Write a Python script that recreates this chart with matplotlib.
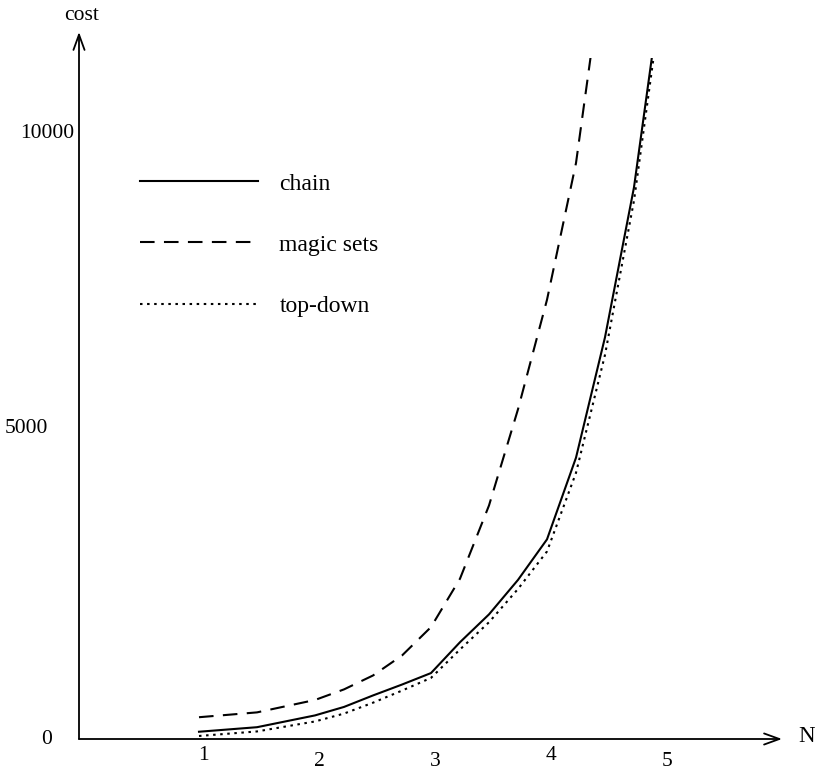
import matplotlib
matplotlib.use("Agg")
import matplotlib.pyplot as plt
from matplotlib.patches import Rectangle

plt.rcParams['font.family'] = ['Liberation Serif', 'DejaVu Serif']

# values (cost vs N)
N = [1, 1.5, 2, 2.25, 2.5, 2.75, 3, 3.25, 3.5, 3.75, 4, 4.25, 4.5, 4.75, 5]
chain = [120, 195, 390, 530, 720, 900, 1090, 1600, 2060, 2630, 3300, 4650, 6640, 9120, 12600]
magic_sets = [360, 440, 645, 820, 1050, 1380, 1850, 2650, 3860, 5450, 7260, 9520, 13000, 17000, 22000]
top_down = [50, 125, 290, 420, 600, 800, 1010, 1480, 1930, 2480, 3100, 4400, 6350, 8900, 12400]

x_ticks = [1, 2, 3, 4, 5]
x_tick_labels = ["1", "2", "3", "4", "5"]
y_ticks = [0, 5000, 10000]
y_tick_labels = ["0", "5000", "10000"]

# label offsets in pixels (the original labels are placed by hand)
x_label_dy = [-16, -23, -23, -16, -23]
y_label_off = [(-32, -1), (-53, 8), (-32, 0)]

W, H = 815, 773
fig = plt.figure(figsize=(W / 100, H / 100), dpi=100)
ax = fig.add_axes([79 / W, 34 / H, (782 - 79) / W, (739 - 32) / H])
ax.set_xlim(1 - (199 - 79) / 116, 1 + (782 - 199) / 116)
ax.set_ylim(0, (739 - 32) / 60.5 * 1000)
ax.axis("off")

# curves run off the top of the drawing
clip = Rectangle((0, 0), 10, 11250, transform=ax.transData)
lw = 1.5
l1, = ax.plot(N, chain, color="black", lw=lw, label="chain")
l2, = ax.plot(N, magic_sets, color="black", lw=lw, dashes=(7, 4.5), label="magic sets")
l3, = ax.plot(N, top_down, color="black", lw=lw, dashes=(1.2, 2.2), label="top-down")
for ln in (l1, l2, l3):
    ln.set_clip_path(clip)

# axes with open arrow heads
arrow = dict(arrowstyle="->,head_length=1.1,head_width=0.4", lw=1.3, color="black",
             shrinkA=0, shrinkB=0, mutation_scale=10)
ax.annotate("", xy=(1, 0), xytext=(0, 0), xycoords="axes fraction", arrowprops=arrow)
ax.annotate("", xy=(0, 1), xytext=(0, 0), xycoords="axes fraction", arrowprops=arrow)

fs = 15.5
for x, lab, dy in zip(x_ticks, x_tick_labels, x_label_dy):
    ax.annotate(lab, xy=(x, 0), xytext=(4, dy), textcoords="offset pixels",
                ha="center", va="center", fontsize=fs, annotation_clip=False)
for y, lab, (dx, dy) in zip(y_ticks, y_tick_labels, y_label_off):
    ax.annotate(lab, xy=(0, y), xycoords=("axes fraction", "data"), xytext=(dx, dy),
                textcoords="offset pixels", ha="center", va="center", fontsize=fs,
                annotation_clip=False)

ax.annotate("cost", xy=(0, 1), xycoords="axes fraction", xytext=(3, 17),
            textcoords="offset pixels", ha="center", va="center", fontsize=fs)
ax.annotate("N", xy=(1, 0), xycoords="axes fraction", xytext=(16, 2),
            textcoords="offset pixels", ha="left", va="center", fontsize=fs + 1)

ax.legend(handles=[l1, l2, l3], loc="upper left", frameon=False, fontsize=17,
          bbox_to_anchor=(140 / W, 1 - 173 / H), bbox_transform=fig.transFigure,
          borderpad=0, borderaxespad=0, handlelength=5.0, handletextpad=0.9,
          labelspacing=1.68)

fig.savefig("out.png", dpi=100)
